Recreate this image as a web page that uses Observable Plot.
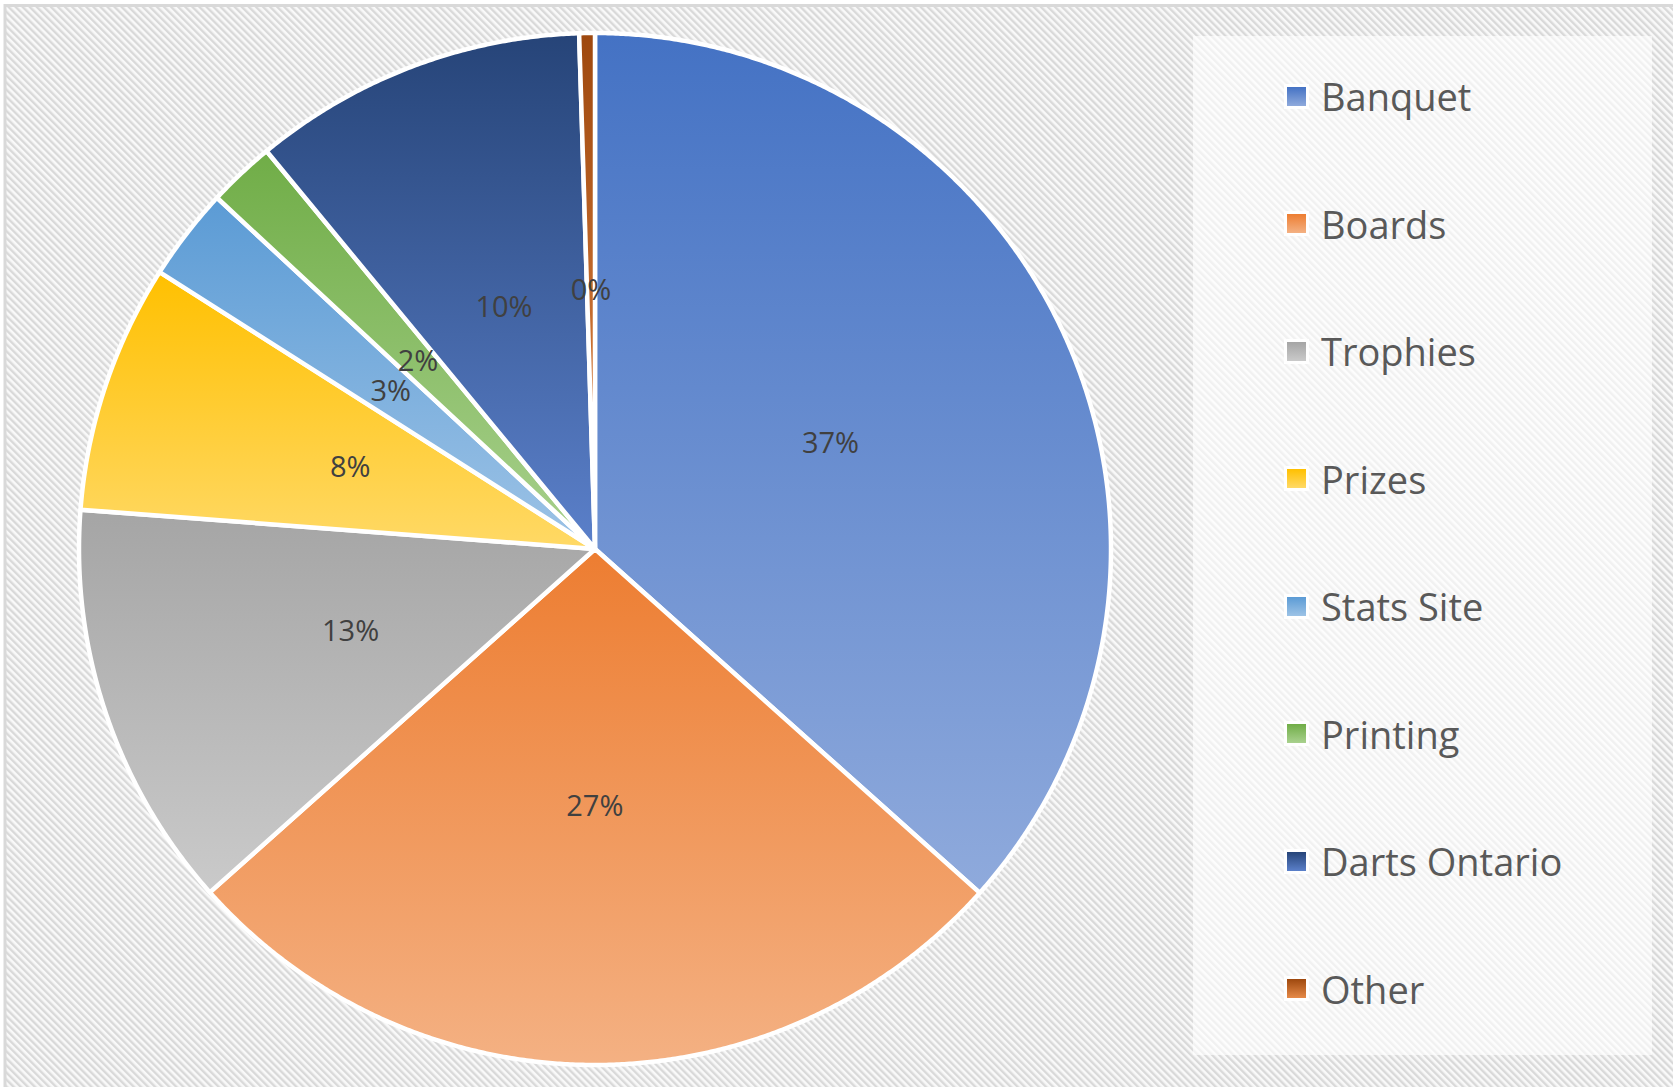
<!DOCTYPE html>
<html>
<head>
<meta charset="utf-8">
<script src="https://cdn.jsdelivr.net/npm/d3@7"></script>
<script src="https://cdn.jsdelivr.net/npm/@observablehq/plot@0.6"></script>
<style>
  html, body { margin: 0; padding: 0; background: #ffffff; }
  #wrap { position: relative; width: 1673px; height: 1087px; overflow: hidden; }
  #wrap svg { display: block; }
  #legend { position: absolute; left: 1193px; top: 36px; width: 459px; height: 1019px;
            background: rgba(255,255,255,0.62); }
  .item { position: absolute; left: 0; height: 52px; display: flex; align-items: center;
          font-family: "Open Sans", sans-serif; font-size: 38px; color: #595959; line-height: 52px; white-space: nowrap; }
  .sw { position: absolute; width: 19px; height: 19px; border: 3px solid #ffffff; }
  .lab { position: absolute; left: 128px; }
</style>
</head>
<body>
<div id="wrap"><div id="legend"></div></div>
<script>
// ---- data ----
const categories = ["Banquet", "Boards", "Trophies", "Prizes", "Stats Site", "Printing", "Darts Ontario", "Other"];
const shares = [36.6, 26.8, 12.8, 7.8, 2.9, 2.1, 10.49, 0.49];
const topColors = ["#4472C4", "#ED7D31", "#A5A5A5", "#FFC000", "#5B9BD5", "#70AD47", "#264478", "#9E480E"];
const bottomColors = ["#8FAADC", "#F4B183", "#CACACA", "#FFD966", "#9DC3E6", "#A9D18E", "#5B80CA", "#E68A48"];

// ---- geometry derived from data ----
const total = d3.sum(shares);
const slices = [];
let acc = 0;
categories.forEach((name, i) => {
  const a0 = acc / total * 2 * Math.PI;
  acc += shares[i];
  const a1 = acc / total * 2 * Math.PI;
  const n = Math.max(2, Math.ceil((a1 - a0) / 0.005));
  const pts = [{x: 0, y: 0}];
  for (let k = 0; k <= n; k++) {
    const a = a0 + (a1 - a0) * k / n;
    pts.push({x: Math.sin(a), y: Math.cos(a)});
  }
  const am = (a0 + a1) / 2;
  slices.push({name, i, pts, lx: 0.5 * Math.sin(am), ly: 0.5 * Math.cos(am),
               label: Math.round(shares[i] / total * 100) + "%"});
});

const cx = 594.5, cy = 548.5, R = 516;

const marks = [
  Plot.frame({fill: "url(#hatch)", stroke: "#d9d9d9", strokeWidth: 3,
              insetLeft: 4.5, insetTop: 5, insetRight: -4, insetBottom: -4})
];
slices.forEach(s => {
  marks.push(Plot.line(s.pts, {x: "x", y: "y", curve: "linear-closed",
    fill: `url(#g${s.i})`, stroke: "#ffffff", strokeWidth: 4.5, strokeLinejoin: "round"}));
});
marks.push(Plot.text(slices, {x: "lx", y: "ly", text: "label", fill: "#404040",
  fontSize: 29, fontFamily: "Open Sans", textAnchor: "middle", lineAnchor: "middle"}));

const svg = Plot.plot({
  width: 1673, height: 1087,
  margin: 0,
  style: {background: "transparent", overflow: "hidden"},
  x: {domain: [-1, 1], range: [cx - R, cx + R], axis: null},
  y: {domain: [-1, 1], range: [cy + R, cy - R], axis: null},
  marks
});

// defs: background hatch and slice gradients
const defs = d3.select(svg).insert("defs", ":first-child");
const pat = defs.append("pattern").attr("id", "hatch").attr("patternUnits", "userSpaceOnUse")
  .attr("width", 5).attr("height", 5).attr("patternTransform", "rotate(-45)");
pat.append("rect").attr("width", 5).attr("height", 5).attr("fill", "#f9f9f9");
pat.append("rect").attr("width", 2.4).attr("height", 5).attr("fill", "#d9d9d9");
categories.forEach((c, i) => {
  const g = defs.append("linearGradient").attr("id", `g${i}`)
    .attr("x1", 0).attr("y1", 0).attr("x2", 0).attr("y2", 1);
  g.append("stop").attr("offset", "0%").attr("stop-color", topColors[i]);
  g.append("stop").attr("offset", "100%").attr("stop-color", bottomColors[i]);
});

document.getElementById("wrap").insertBefore(svg, document.getElementById("legend"));

// legend
const legend = d3.select("#legend");
categories.forEach((c, i) => {
  const yc = 96 + 127.5 * i - 36;
  const item = legend.append("div").attr("class", "item").style("top", (yc - 26) + "px").style("width", "459px");
  item.append("div").attr("class", "sw")
    .style("left", (1287 - 1193 - 3) + "px").style("top", (26 - 12.5) + "px")
    .style("background", `linear-gradient(to bottom, ${topColors[i]}, ${bottomColors[i]})`);
  item.append("div").attr("class", "lab").text(c);
});
</script>
</body>
</html>
